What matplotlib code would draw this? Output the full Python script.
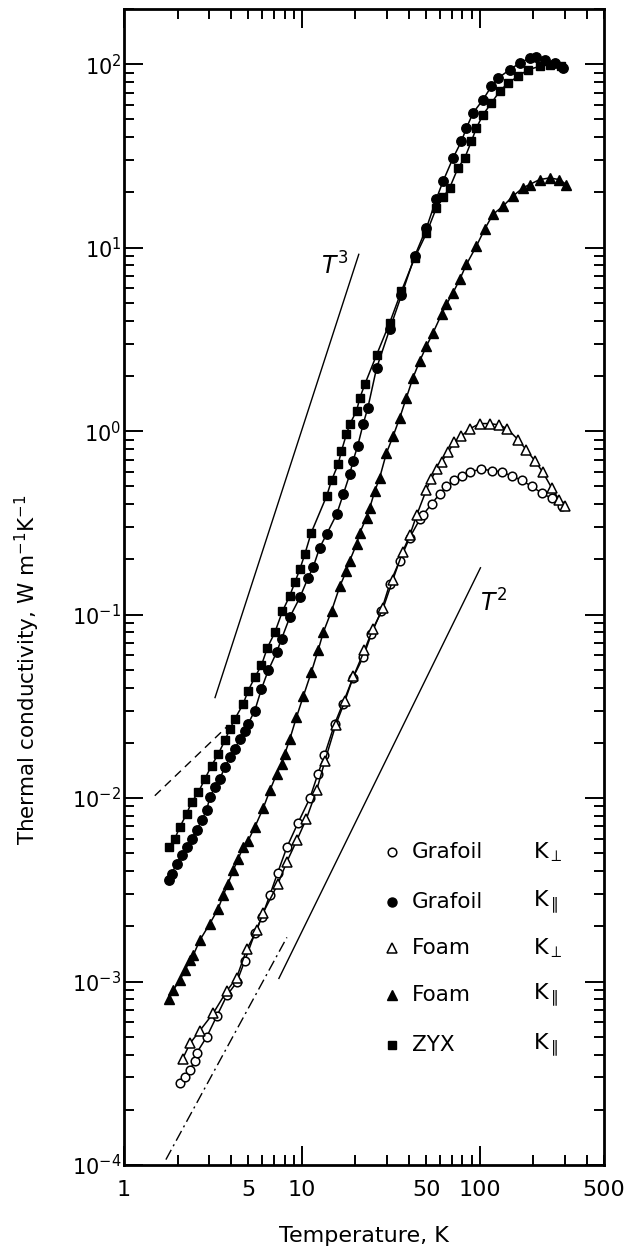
import matplotlib
matplotlib.use("Agg")
import matplotlib.pyplot as plt
from matplotlib.ticker import LogLocator, NullFormatter, FixedLocator, FixedFormatter

# ---------------- data ----------------
zyx_T = [1.80, 1.93, 2.06, 2.25, 2.40, 2.62, 2.85, 3.11, 3.39, 3.69, 3.94, 4.20, 4.68,
         4.99, 5.44, 5.93, 6.40, 7.05, 7.77, 8.56, 9.14, 9.75, 10.4, 11.3, 13.8, 14.7,
         16.0, 16.7, 17.8, 18.6, 20.3, 21.2, 22.6, 26.3, 31.2, 36.3, 43.1, 50.2, 57.1,
         62.2, 67.8, 75.5, 82.4, 89.8, 95.8, 104.4, 116.3, 129.5, 144.3, 164, 186.8,
         217, 247, 288]
zyx_K = [5.41e-3, 6.0e-3, 6.95e-3, 8.21e-3, 9.5e-3, 1.077e-2, 1.273e-2, 1.505e-2,
         1.74e-2, 2.06e-2, 2.38e-2, 2.7e-2, 3.26e-2, 3.85e-2, 4.55e-2, 5.3e-2, 6.6e-2,
         8.0e-2, 0.104, 0.127, 0.15, 0.177, 0.214, 0.28, 0.444, 0.54, 0.66, 0.78, 0.96,
         1.09, 1.29, 1.52, 1.8, 2.6, 3.9, 5.8, 8.8, 12.0, 16.5, 18.8, 21.2, 27.2, 30.8,
         38, 44.9, 53.1, 61.4, 71.2, 79, 85.8, 93.3, 97.3, 99.3, 97.3]

gpar_T = [1.80, 1.85, 1.98, 2.11, 2.25, 2.40, 2.56, 2.73, 2.91, 3.04, 3.24, 3.46, 3.69,
          3.94, 4.20, 4.49, 4.79, 4.99, 5.44, 5.93, 6.47, 7.21, 7.69, 8.56, 9.75, 10.85,
          11.57, 12.6, 13.8, 15.7, 17.1, 18.6, 19.4, 20.6, 22.1, 23.5, 26.3, 31.2, 36.3,
          43.1, 50.2, 57.1, 62.2, 70.8, 78.9, 84.2, 91.7, 104.4, 116.3, 126.8, 147.4,
          167.8, 191, 208, 232, 264, 294]
gpar_K = [3.56e-3, 3.87e-3, 4.39e-3, 4.87e-3, 5.41e-3, 6.0e-3, 6.66e-3, 7.55e-3, 8.56e-3,
          1.01e-2, 1.147e-2, 1.273e-2, 1.473e-2, 1.67e-2, 1.855e-2, 2.1e-2, 2.33e-2,
          2.54e-2, 3.0e-2, 3.94e-2, 4.96e-2, 6.23e-2, 7.37e-2, 9.7e-2, 0.124, 0.159,
          0.181, 0.232, 0.275, 0.353, 0.453, 0.582, 0.689, 0.83, 1.09, 1.34, 2.2, 3.6,
          5.5, 9.0, 12.8, 18.5, 23.0, 30.8, 38, 44.9, 54.2, 64.1, 75.7, 84, 93.3, 101.5,
          108, 110, 106, 101.5, 95.3]

fpar_T = [1.80, 1.89, 2.06, 2.2, 2.35, 2.45, 2.67, 3.04, 3.39, 3.61, 3.85, 4.11, 4.39,
          4.68, 4.99, 5.44, 6.06, 6.61, 7.21, 7.69, 8.02, 8.56, 9.33, 10.2, 11.3, 12.35,
          13.2, 14.7, 16.4, 17.8, 18.6, 20.3, 21.2, 23.1, 24.1, 25.7, 27.4, 29.9, 32.6,
          35.5, 38.7, 42.2, 46, 50.2, 54.7, 61, 65, 70.8, 77.2, 84.2, 95.8, 106.6, 118.7,
          135, 153.8, 175, 191, 217, 247, 281, 307]
fpar_K = [8.08e-4, 8.97e-4, 1.017e-3, 1.15e-3, 1.305e-3, 1.39e-3, 1.68e-3, 2.07e-3,
          2.5e-3, 2.95e-3, 3.42e-3, 4.04e-3, 4.67e-3, 5.41e-3, 5.87e-3, 6.95e-3, 8.8e-3,
          1.1e-2, 1.35e-2, 1.54e-2, 1.74e-2, 2.1e-2, 2.76e-2, 3.6e-2, 4.85e-2, 6.4e-2,
          8.0e-2, 0.105, 0.1437, 0.173, 0.197, 0.242, 0.28, 0.338, 0.383, 0.47, 0.558,
          0.76, 0.94, 1.18, 1.52, 1.96, 2.41, 2.91, 3.44, 4.33, 4.91, 5.68, 6.71, 8.1,
          10.2, 12.6, 15.2, 16.8, 19.1, 21.2, 22.1, 23.5, 24.0, 23.5, 22.1]

gperp_T = [2.06, 2.2, 2.35, 2.5, 2.57, 2.92, 3.33, 3.79, 4.3, 4.78, 5.44, 5.96, 6.6,
           7.3, 8.24, 9.5, 11.1, 12.3, 13.4, 15.3, 17, 19.4, 22.1, 24.6, 28.0, 31.2,
           35.5, 40.4, 46, 48, 53.6, 59.5, 65, 72, 80, 88, 102, 117, 133, 151, 172, 196,
           223, 254, 292]
gperp_K = [2.8e-4, 3.0e-4, 3.3e-4, 3.7e-4, 4.1e-4, 5e-4, 6.5e-4, 8.4e-4, 9.9e-4, 1.3e-3,
           1.83e-3, 2.25e-3, 2.95e-3, 3.9e-3, 5.4e-3, 7.3e-3, 0.01, 0.0135, 0.0171,
           0.0254, 0.0327, 0.0454, 0.0585, 0.0784, 0.105, 0.147, 0.197, 0.263, 0.33,
           0.35, 0.40, 0.455, 0.50, 0.54, 0.57, 0.60, 0.62, 0.61, 0.60, 0.57, 0.54, 0.50,
           0.46, 0.43, 0.39]

fperp_T = [2.14, 2.35, 2.67, 3.17, 3.79, 4.3, 4.9, 5.58, 6.03, 7.33, 8.24, 9.38, 10.6,
           12.1, 13.5, 15.5, 17.5, 19.5, 22.5, 25, 28.6, 32.5, 36.9, 40.4, 44.3, 50.2,
           53.4, 57.5, 61, 66.4, 72, 79, 88, 100, 114, 129, 143, 164, 183, 204, 226, 254,
           281, 300]
fperp_K = [3.8e-4, 4.6e-4, 5.4e-4, 6.7e-4, 8.9e-4, 1.05e-3, 1.5e-3, 1.9e-3, 2.35e-3,
           3.4e-3, 4.5e-3, 5.9e-3, 7.7e-3, 0.011, 0.016, 0.025, 0.034, 0.046, 0.064,
           0.083, 0.108, 0.155, 0.22, 0.27, 0.35, 0.48, 0.55, 0.62, 0.68, 0.77, 0.87,
           0.94, 1.03, 1.1, 1.1, 1.08, 1.03, 0.9, 0.79, 0.69, 0.6, 0.49, 0.42, 0.39]

# reference power-law guide lines (end points)
t3_T, t3_K = [3.25, 20.9], [0.0353, 9.2]
t2_T, t2_K = [7.43, 101], [1.04e-3, 0.18]
dash_T, dash_K = [1.49, 3.84], [0.0103, 0.0248]
dashdot_T, dashdot_K = [1.72, 8.24], [1.07e-4, 1.74e-3]

legend_names = ["Grafoil", "Grafoil", "Foam", "Foam", "ZYX"]
legend_K = [r"K$_{\perp}$", r"K$_{\parallel}$", r"K$_{\perp}$", r"K$_{\parallel}$", r"K$_{\parallel}$"]

xtick_vals = [1, 5, 10, 50, 100, 500]
xtick_labels = ["1", "5", "10", "50", "100", "500"]

# ---------------- figure ----------------
plt.rcParams['font.family'] = ['DejaVu Sans']
plt.rcParams['mathtext.fontset'] = 'dejavusans'

fig = plt.figure(figsize=(6.27, 12.5), dpi=100)
ax = fig.add_axes([124/627, 85/1250, 480/627, 1156/1250])
ax.set_xscale('log')
ax.set_yscale('log')
ax.set_xlim(1, 500)
ax.set_ylim(1e-4, 2e2)

series = [
    (gperp_T, gperp_K, dict(marker='o', mfc='white', mec='black', ms=6.2, mew=1.1)),
    (fperp_T, fperp_K, dict(marker='^', mfc='white', mec='black', ms=7.0, mew=1.1)),
    (gpar_T, gpar_K, dict(marker='o', mfc='black', mec='black', ms=6.8, mew=1.0)),
    (fpar_T, fpar_K, dict(marker='^', mfc='black', mec='black', ms=7.0, mew=1.0)),
    (zyx_T, zyx_K, dict(marker='s', mfc='black', mec='black', ms=6.2, mew=1.0)),
]
for T, K, st in series:
    ax.plot(T, K, color='black', lw=1.1, ls='-', **st)

ax.plot(t3_T, t3_K, color='black', lw=1.0)
ax.plot(t2_T, t2_K, color='black', lw=1.0)
ax.plot(dash_T, dash_K, color='black', lw=1.0, ls=(0, (6, 4)))
ax.plot(dashdot_T, dashdot_K, color='black', lw=1.0, ls=(0, (8, 3, 1.5, 3)))

ax.text(15.3, 7.9, r"$T^3$", fontsize=17, ha='center', va='center')
ax.text(120, 0.115, r"$T^2$", fontsize=17, ha='center', va='center')

# ticks
ax.xaxis.set_major_locator(FixedLocator(xtick_vals))
ax.xaxis.set_major_formatter(FixedFormatter(xtick_labels))
minor_x = [m * 10**e for e in range(0, 3) for m in range(2, 10)
           if m * 10**e < 500 and m != 5]
ax.xaxis.set_minor_locator(FixedLocator(minor_x))
ax.xaxis.set_minor_formatter(NullFormatter())
ax.yaxis.set_major_locator(LogLocator(base=10, numticks=20))
ax.yaxis.set_minor_locator(LogLocator(base=10, subs=range(2, 10), numticks=50))
ax.yaxis.set_minor_formatter(NullFormatter())

ax.tick_params(which='both', direction='in', top=True, right=True, width=1.4, color='black')
ax.tick_params(which='major', length=14)
ax.tick_params(which='minor', length=7)
ax.tick_params(axis='x', which='major', labelsize=16, pad=11)
ax.tick_params(axis='y', which='major', labelsize=15, pad=2)
for t, v in zip(ax.xaxis.get_major_ticks(), xtick_vals):
    if v in (5, 50, 500):
        t.tick1line.set_markersize(7)
        t.tick2line.set_markersize(7)

for s in ax.spines.values():
    s.set_linewidth(2.0)

ax.set_xlabel("Temperature, K", fontsize=16)
ax.xaxis.set_label_coords(0.5, -0.053)
ax.xaxis.label.set_va('top')
ax.set_ylabel(r"Thermal conductivity, W m$^{-1}$K$^{-1}$", fontsize=15.5)
ax.yaxis.set_label_coords(-0.170, 0.428)

# legend drawn manually
leg_marks = [dict(marker='o', mfc='white', mec='black', ms=6.2, mew=1.1),
             dict(marker='o', mfc='black', mec='black', ms=6.5),
             dict(marker='^', mfc='white', mec='black', ms=7.0, mew=1.1),
             dict(marker='^', mfc='black', mec='black', ms=7.0),
             dict(marker='s', mfc='black', mec='black', ms=6.0)]
rows_y = [0.271, 0.2275, 0.1877, 0.147, 0.1038]
for yy, name, kk, mk in zip(rows_y, legend_names, legend_K, leg_marks):
    ax.plot([0.558], [yy], transform=ax.transAxes, ls='none', color='black', **mk)
    ax.text(0.600, yy, name, transform=ax.transAxes, fontsize=15.5, va='center', ha='left')
    ax.text(0.852, yy, kk, transform=ax.transAxes, fontsize=16, va='center', ha='left')

fig.savefig("out.png", dpi=100)
